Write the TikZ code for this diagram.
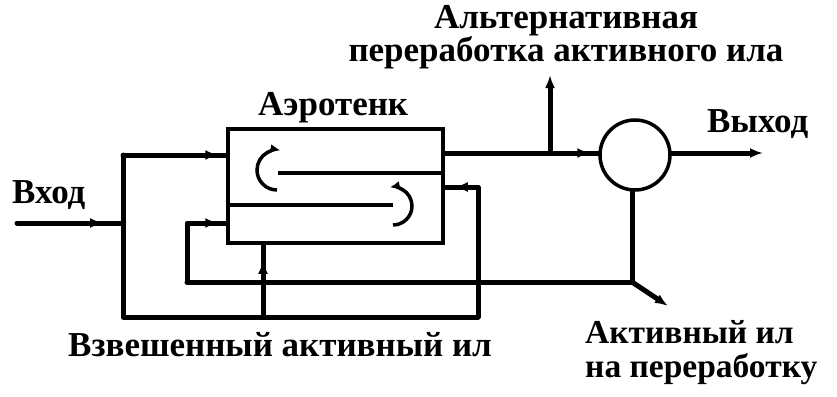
\documentclass[tikz,border=0pt]{standalone}
\usepackage{fontspec}
\setmainfont{Liberation Serif}
\usetikzlibrary{arrows.meta,decorations.markings}
\tikzset{
  flow/.style={line width=5pt, line cap=round, line join=round},
  thin/.style={line width=3.5pt},
  tip/.style={-{Latex[length=13pt,width=10pt]}},
  markarrow/.style={postaction={decorate,decoration={markings,
     mark=at position #1 with {\arrow{Latex[length=13pt,width=10pt]}}}}},
  lbl/.style={font=\bfseries\fontsize{35}{38}\selectfont, inner sep=0pt, anchor=base west},
}
\begin{document}
\begin{tikzpicture}[x=1pt,y=-1pt]
\useasboundingbox (0,0) rectangle (837,396);
% tank and clarifier
\node[draw, thin, minimum width=215pt, minimum height=114pt, inner sep=0pt] (tank) at (335.5,186) {};
\node[draw, thin, circle, minimum size=70pt, inner sep=0pt] (clar) at (635,155) {};
% interior partitions
\coordinate (p1a) at (278,173); \coordinate (p1b) at (tank.east |- p1a);
\coordinate (p2a) at (tank.west |- 0,205); \coordinate (p2b) at (393,205);
\draw[thin] (p1a) -- (p1b);
\draw[thin] (p2a) -- (p2b);
% curved arrows
\draw[thin,-{Latex[length=10pt,width=9pt]}] (277,190) arc[start angle=90, end angle=280, radius=20];
\draw[thin,-{Latex[length=10pt,width=9pt]}] (393,225) arc[start angle=90, end angle=-100, radius=19];
% coordinates
\coordinate (inL) at (17,223);
\coordinate (jL) at (123,223);
\coordinate (jLt) at (123,155);
\coordinate (jLb) at (123,317);
\coordinate (tin1) at (tank.west |- jLt);
\coordinate (rb) at (478,317);
\coordinate (rt) at (478,187);
\coordinate (tin3) at (tank.east |- rt);
\coordinate (ib) at (187,282);
\coordinate (it) at (187,223);
\coordinate (tin2) at (tank.west |- it);
\coordinate (cb) at (632,282);
\coordinate (cbt) at (clar.south -| cb);
\coordinate (ws) at (668,306);
\coordinate (vb) at (263,317);
\coordinate (vt) at (tank.south -| vb);
\coordinate (to) at (tank.east |- 0,153);
\coordinate (ci) at (clar.west |- to);
\coordinate (alt0) at (550,153);
\coordinate (alt1) at (550,75);
\coordinate (co) at (clar.east |- to);
\coordinate (out) at (763,153);
% flows
\draw[flow, markarrow=-20pt] (inL) -- (jL);
\draw[flow] (jLt) -- (jLb) -- (rb);
\draw[flow, markarrow=-8pt] (jLt) -- (tin1);
\draw[flow, markarrow=-10pt] (rb) -- (rt) -- (tin3);
\draw[flow, markarrow=-8pt] (ib) -- (it) -- (tin2);
\draw[flow] (ib) -- (cb) -- (cbt);
\draw[flow, tip] (cb) -- (ws);
\draw[flow, markarrow=-16pt] (vb) -- (vt);
\draw[flow, markarrow=-8pt] (to) -- (ci);
\draw[flow, tip] (alt0) -- (alt1);
\draw[flow, tip] (co) -- (out);
% labels
\node[lbl] (l1) at (12,203) {Вход};
\node[lbl] (l2) at (258,115) {Аэротенк};
\node[lbl, align=center, anchor=base, font=\bfseries\fontsize{35}{32}\selectfont] (l3) at (566,62) {Альтернативная\\переработка активного ила};
\node[lbl] (l5) at (707,132) {Выход};
\node[lbl, align=left, font=\bfseries\fontsize{33.5}{34}\selectfont] (l6) at (585,377) {Активный ил\\на переработку};
\node[lbl] (l8) at (68,356) {Взвешенный активный ил};
\end{tikzpicture}
\end{document}
